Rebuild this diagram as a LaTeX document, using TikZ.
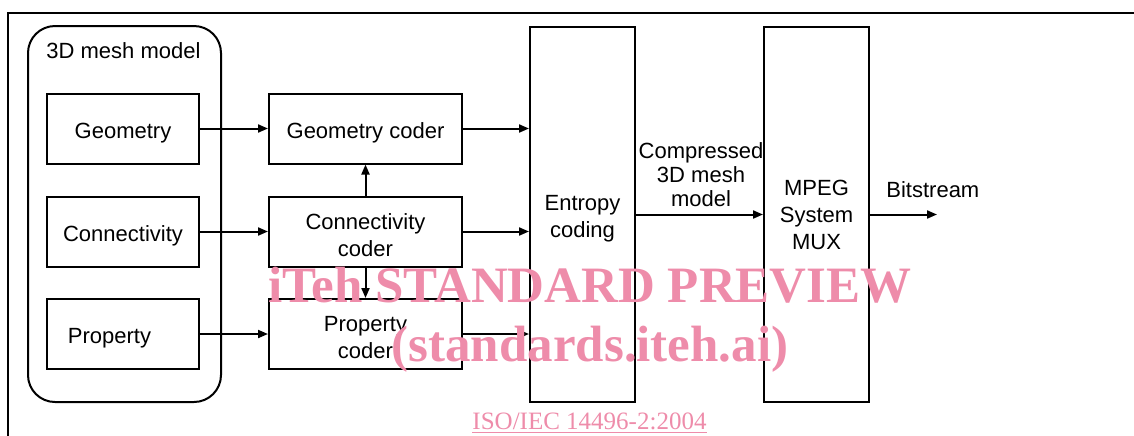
\documentclass[tikz,border=0pt]{standalone}
\usepackage{fontspec}
\setmainfont{Liberation Sans}
\newfontfamily\wmfont{Liberation Serif}
\usetikzlibrary{arrows.meta}
\usetikzlibrary{calc}
\definecolor{wmpink}{RGB}{238,140,170}

\begin{document}
\begin{tikzpicture}[x=0.5pt,y=-0.5pt,font=\fontsize{11}{13.5}\selectfont,
	box/.style={draw,line width=1pt,minimum width=76pt,minimum height=35pt,inner sep=0pt,align=center},
	oneline/.style={text height=12pt},
	twoline/.style={text height=25pt},
	coderbox/.style={box,minimum width=96.5pt},
	tallbox/.style={box,minimum width=52.5pt,minimum height=187.5pt},
	flow/.style={line width=1pt,-{Triangle[length=5pt,width=4pt]}},
	wm/.style={text=wmpink,font=\wmfont\bfseries\fontsize{25.5}{25.5}\selectfont,anchor=base,inner sep=0pt}]

		\useasboundingbox (0,0) rectangle (1134,435);

		\coordinate (G) at (123,128.5);
		\coordinate (C) at (123,231.5);
		\coordinate (P) at (123,334);
		\coordinate (GC) at (365.5,128.5);
		\coordinate (CC) at (365.5,231.5);
		\coordinate (PC) at (365.5,334);
		\coordinate (E) at (582.5,214.5);
		\coordinate (M) at (816.5,214.5);
		\coordinate (out) at (937,214.5);

		% page frame
		\draw [line width=1.4pt] (8,436) -- (8,13) -- (1135,13);

		% 3D mesh model
		\node [draw, line width=1pt, rounded corners=13.5pt, minimum width=96.5pt, minimum height=188pt] (model) at (124.5,214) {};
		\node [anchor=west, inner sep=0pt] (modellabel) at (46,51) {3D mesh model};

		\node [box, oneline] (geo) at (G) {Geometry};
		\node [box, oneline] (con) at (C) {Connectivity};
		\node [box, oneline] (pro) at (P) {Property\hspace{13.5pt}};

		\node [coderbox, oneline] (geocoder) at (GC) {Geometry coder};
		\node [coderbox, twoline] (concoder) at (CC) {Connectivity\\coder};
		\node [coderbox, twoline] (procoder) at (PC) {Property\\coder};

		\node [tallbox, twoline] (entropy) at (E) {Entropy\\coding};
		\node [tallbox] (mpeg) at (M) {MPEG\\System\\MUX};

		\draw [flow] (geo) -- (geocoder);
		\draw [flow] (con) -- (concoder);
		\draw [flow] (pro) -- (procoder);
		\draw [flow] (concoder) -- (geocoder);
		\draw [flow] (concoder) -- (procoder);

		\draw [flow] (geocoder) -- (geocoder -| entropy.west);
		\draw [flow] (concoder) -- (concoder -| entropy.west);
		\draw [flow] (procoder) -- (procoder -| entropy.west);

		\draw [flow] (entropy) -- (mpeg);
		\node [font=\fontsize{11}{12}\selectfont, align=center] (cmlabel) at (701,175) {Compressed\\3D mesh\\model};

		\draw [flow] (mpeg) -- (out);
		\node [anchor=west, inner sep=0pt] (bitlabel) at (886,190) {Bitstream};

		% watermark
		\node [wm] (wmtop) at (590,302) {iTeh STANDARD PREVIEW};
		\node [wm] (wmsite) at (590,361) {(standards.iteh.ai)};
		\node [text=wmpink, font=\wmfont\fontsize{12.5}{12.5}\selectfont, anchor=base, inner sep=0pt] (wmiso) at (589.5,429) {\underline{ISO/IEC 14496-2:2004}};
\end{tikzpicture}
\end{document}
